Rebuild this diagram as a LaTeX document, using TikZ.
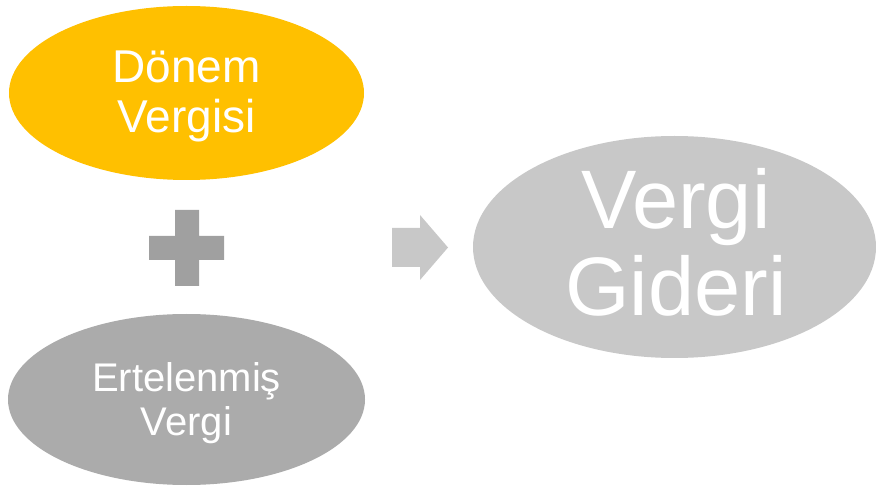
\documentclass[tikz,border=0pt]{standalone}
\usepackage{fontspec}
\setmainfont{Liberation Sans}
\usetikzlibrary{shapes.geometric}
\definecolor{gold}{HTML}{FFC000}
\definecolor{midgray}{HTML}{ABABAB}
\definecolor{lightgray}{HTML}{C8C8C8}
\definecolor{plusgray}{HTML}{A0A0A0}
\tikzset{
  oval/.style={ellipse, inner sep=0pt, text=white, align=center},
}
\begin{document}
\begin{tikzpicture}[x=1pt,y=-1pt]
\useasboundingbox (0,0) rectangle (876,486);
\fill[white] (0,0) rectangle (876,486);
\node[oval, fill=gold, minimum width=355pt, minimum height=174pt] (donem) at (186.5,93) {};
\node[text=white, align=center, font=\fontsize{46}{50}\selectfont] (donemtxt) at (186.5,96) {Dönem\\Vergisi};
\node[oval, fill=midgray, minimum width=357pt, minimum height=171pt] (ertel) at (186.5,399.5) {};
\node[text=white, align=center, font=\fontsize{40}{44}\selectfont] (erteltxt) at (186.5,403.5) {Ertelenmiş\\Vergi};
\node[oval, fill=lightgray, minimum width=403pt, minimum height=222pt] (gider) at (674.5,247) {};
\node[text=white, align=center, font=\fontsize{83}{87}\selectfont] (gidertxt) at (676,242) {Vergi\\Gideri};
% plus sign
\fill[plusgray] (175,210) -- (199,210) -- (199,236) -- (224,236) -- (224,260)
  -- (199,260) -- (199,286) -- (175,286) -- (175,260) -- (149,260)
  -- (149,236) -- (175,236) -- cycle;
% arrow
\fill[lightgray] (392,228) -- (420,228) -- (420,215) -- (448,247.5)
  -- (420,280) -- (420,267) -- (392,267) -- cycle;
\end{tikzpicture}
\end{document}
